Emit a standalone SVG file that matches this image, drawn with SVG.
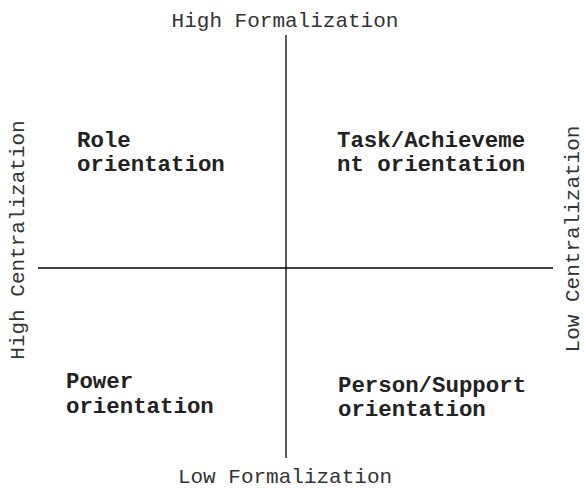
<svg xmlns="http://www.w3.org/2000/svg" width="584" height="488" viewBox="0 0 584 488">
<style>
.axis{font-family:"Liberation Mono","Courier New",monospace;font-size:21px;fill:#333;}
.lbl{font-family:"Liberation Mono","Courier New",monospace;font-size:22.4px;font-weight:bold;fill:#222;}
.ln{stroke:#000;stroke-width:1.3;fill:none;}
</style>
<rect width="584" height="488" fill="#fff"/>
<g id="connectors">
<line class="ln" x1="286" y1="35" x2="286" y2="458"/>
<line class="ln" x1="38" y1="268" x2="553" y2="268"/>
</g>
<g id="axis-top"><text class="axis" x="285" y="27" text-anchor="middle">High Formalization</text></g>
<g id="axis-bottom"><text class="axis" x="285" y="483" text-anchor="middle">Low Formalization</text></g>
<g id="axis-left"><text class="axis" transform="translate(24,240) rotate(-90)" text-anchor="middle">High Centralization</text></g>
<g id="axis-right"><text class="axis" transform="translate(579,239) rotate(-90)" text-anchor="middle">Low Centralization</text></g>
<g id="role"><text class="lbl" x="77" y="147">Role</text><text class="lbl" x="77" y="171">orientation</text></g>
<g id="task"><text class="lbl" x="337" y="147">Task/Achieveme</text><text class="lbl" x="337" y="171">nt orientation</text></g>
<g id="power"><text class="lbl" x="66" y="388">Power</text><text class="lbl" x="66" y="413">orientation</text></g>
<g id="person"><text class="lbl" x="338" y="392">Person/Support</text><text class="lbl" x="338" y="416">orientation</text></g>
</svg>
